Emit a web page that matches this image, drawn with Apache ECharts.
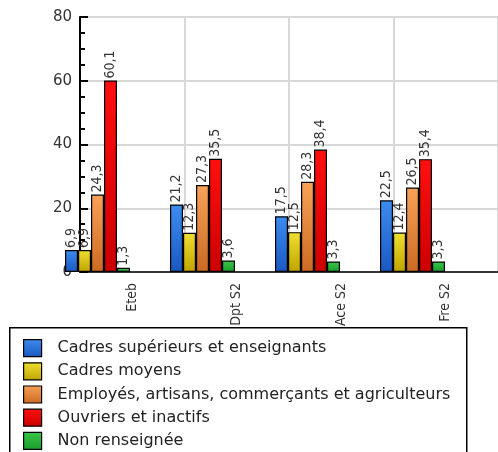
<html>
<head>
<meta http-equiv="Content-Type" content="text/html; charset=utf-8" />
<style type="text/css">
body {margin:0; background-color: white}
</style>
</head>
<body>
<div id="main" style="width:498px;height:452px;"></div>
</body>

<script src="https://cdn.jsdelivr.net/npm/echarts@6/dist/echarts.min.js"></script>
<script type="text/javascript">

var myChart = echarts.init(document.getElementById('main'));

var categories = ['Eteb', 'Dpt S2', 'Ace S2', 'Fre S2'];
var seriesNames = ['Cadres supérieurs et enseignants', 'Cadres moyens',
    'Employés, artisans, commerçants et agriculteurs', 'Ouvriers et inactifs', 'Non renseignée'];
var cadresSup = [6.9, 21.2, 17.5, 22.5];
var cadresMoy = [6.9, 12.3, 12.5, 12.4];
var employes = [24.3, 27.3, 28.3, 26.5];
var ouvriers = [60.1, 35.5, 38.4, 35.4];
var nonRens = [1.3, 3.6, 3.3, 3.3];
var yTicks = [0, 20, 40, 60, 80];

var values = [cadresSup, cadresMoy, employes, ouvriers, nonRens];
var gradients = [
    ['#3d8cf0', '#1a58c0'],
    ['#f0e030', '#bfa300'],
    ['#f8a258', '#cc6a22'],
    ['#ff1010', '#cc0000'],
    ['#38c848', '#1c9c2c']
];

function grad(c) {
    return new echarts.graphic.LinearGradient(0, 0, 0, 1, [
        { offset: 0, color: c[0] }, { offset: 1, color: c[1] }
    ]);
}

var series = values.map(function (v, i) {
    return {
        name: seriesNames[i],
        type: 'bar',
        xAxisIndex: 1,
        yAxisIndex: 1,
        data: v,
        barWidth: 13,
        barGap: '0%',
        itemStyle: { color: grad(gradients[i]), borderColor: '#000', borderWidth: 1.2 },
        label: {
            show: true,
            position: 'top',
            rotate: 90,
            align: 'left',
            verticalAlign: 'middle',
            distance: 2,
            color: '#333',
            fontSize: 14,
            fontFamily: 'DejaVu Sans Condensed, DejaVu Sans',
            formatter: function (p) { return p.value.toFixed(1).replace('.', ','); }
        }
    };
});

option = {
    animation: false,
    textStyle: { fontFamily: 'DejaVu Sans' },
    grid: [
        { left: 80, top: 17, width: 420, height: 255 },
        { left: 45, top: 17, width: 420, height: 255 }
    ],
    xAxis: [{
        type: 'category',
        gridIndex: 0,
        data: categories,
        boundaryGap: true,
        axisLine: { lineStyle: { color: '#000', width: 1.5 } },
        axisTick: { show: false },
        splitLine: { show: true, lineStyle: { color: '#d8d8d8', width: 2 } },
        axisLabel: { rotate: 90, color: '#333', fontSize: 14, margin: 11,
            fontFamily: 'DejaVu Sans Condensed, DejaVu Sans' }
    }, {
        type: 'category',
        gridIndex: 1,
        data: categories,
        show: false
    }],
    yAxis: [{
        type: 'value',
        gridIndex: 0,
        min: yTicks[0],
        max: yTicks[yTicks.length - 1],
        interval: 20,
        axisLine: { show: true, lineStyle: { color: '#000', width: 2 } },
        axisTick: { show: true, inside: true, length: 8, lineStyle: { color: '#000', width: 2 } },
        minorTick: { show: true, splitNumber: 4, length: 5, lineStyle: { color: '#000', width: 2 } },
        splitLine: { show: true, lineStyle: { color: '#d8d8d8', width: 2 } },
        axisLabel: { color: '#333', fontSize: 15, margin: 8 }
    }, {
        type: 'value',
        gridIndex: 1,
        min: yTicks[0],
        max: yTicks[yTicks.length - 1],
        show: false
    }],
    legend: {
        orient: 'vertical',
        left: 23,
        top: 339,
        height: 200,
        padding: 0,
        itemWidth: 18,
        itemHeight: 17,
        itemGap: 5,
        icon: 'rect',
        itemStyle: { borderColor: '#000', borderWidth: 1.2 },
        textStyle: { color: '#222', fontSize: 16, lineHeight: 17, padding: [0, 0, 0, 11] },
        data: seriesNames
    },
    graphic: [{
        type: 'rect',
        left: 9,
        top: 327,
        shape: { width: 457, height: 140 },
        style: { fill: '#fff', stroke: '#000', lineWidth: 1.5 },
        z: 0,
        zlevel: 0
    }],
    series: series
};

myChart.setOption(option);
</script>
</html>
